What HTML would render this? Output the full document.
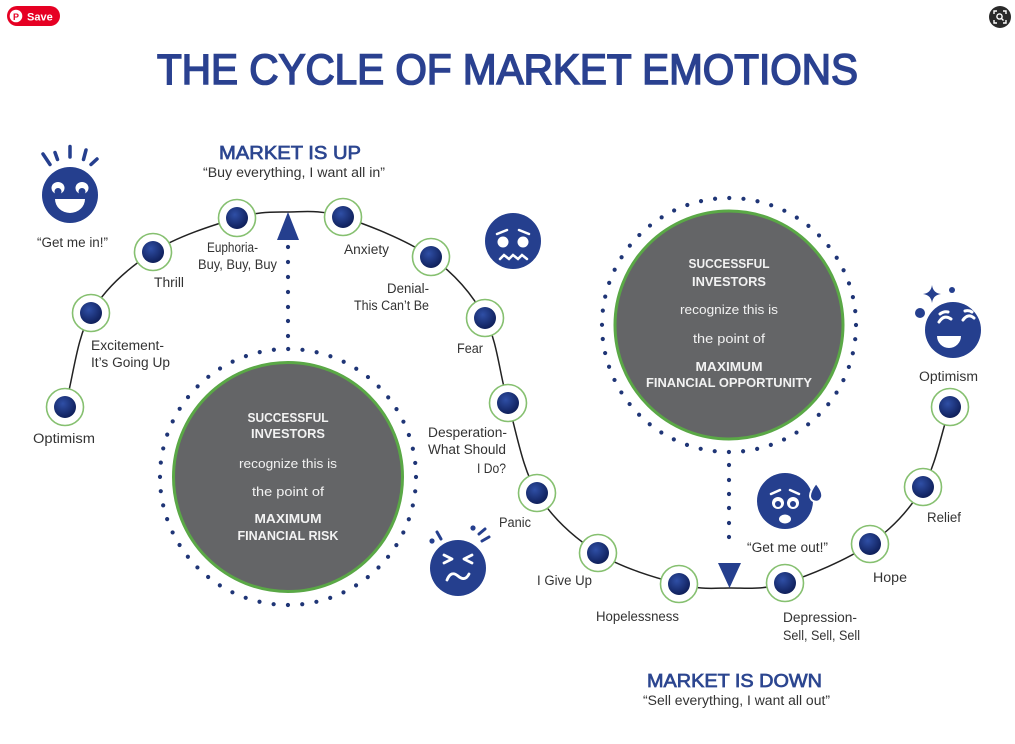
<!DOCTYPE html>
<html><head><meta charset="utf-8"><style>
html,body{margin:0;padding:0;background:#fff;}
svg{display:block;}
text{font-family:"Liberation Sans",sans-serif;}
.lb{font-size:13.5px;fill:#333;}
.hd{font-size:18px;fill:#2c4690;stroke:#2c4690;stroke-width:0.7;}
.q{font-size:13.5px;fill:#333;}
.cw{font-size:13px;fill:#f2f2f2;text-anchor:middle;}
.cb{font-size:13px;font-weight:bold;fill:#f2f2f2;text-anchor:middle;}
</style></head><body>
<svg width="1015" height="744" viewBox="0 0 1015 744" xmlns="http://www.w3.org/2000/svg">
<defs>
<radialGradient id="dot" cx="0.4" cy="0.35" r="0.7">
<stop offset="0" stop-color="#2f4fa6"/><stop offset="1" stop-color="#0d1c55"/>
</radialGradient>
</defs>
<rect width="1015" height="744" fill="#fff"/>

<!-- Save button -->
<rect x="7" y="6" width="53" height="20" rx="10" fill="#e60023"/>
<circle cx="16" cy="16" r="6.3" fill="#fff"/>
<text x="16" y="20" font-size="9" font-weight="bold" fill="#e60023" text-anchor="middle">P</text>
<text x="27" y="20.5" font-size="11" font-weight="bold" fill="#fff">Save</text>

<!-- top right icon -->
<circle cx="1000" cy="17" r="11" fill="#2a2a2a"/>
<path d="M994,14 v-3 h3 M1003,11 h3 v3 M1006,20 v3 h-3 M997,23 h-3 v-3" stroke="#fff" stroke-width="1.4" fill="none"/>
<circle cx="999.5" cy="16.5" r="2.6" stroke="#fff" stroke-width="1.4" fill="none"/>
<line x1="1001.5" y1="18.5" x2="1003.5" y2="20.5" stroke="#fff" stroke-width="1.4"/>

<!-- Title -->
<text x="157" y="84" font-size="43" fill="#2a4190" stroke="#2a4190" stroke-width="1.6" textLength="701" lengthAdjust="spacingAndGlyphs">THE CYCLE OF MARKET EMOTIONS</text>

<!-- Headers -->
<text x="219" y="159" class="hd" textLength="142" lengthAdjust="spacingAndGlyphs">MARKET IS UP</text>
<text x="203" y="177" class="q" textLength="182" lengthAdjust="spacingAndGlyphs">“Buy everything, I want all in”</text>
<text x="647" y="687" class="hd" textLength="175" lengthAdjust="spacingAndGlyphs">MARKET IS DOWN</text>
<text x="643" y="705" class="q" textLength="187" lengthAdjust="spacingAndGlyphs">“Sell everything, I want all out”</text>

<!-- Curve -->
<path d="M65,407 C73.7,375.7 76.3,338.8 91,313 C105.7,287.2 128.7,267.8 153,252 C177.3,236.2 214.5,224.7 237,218 C259.5,211.3 270.3,212.2 288,212 C305.7,211.8 319.2,209.5 343,217 C366.8,224.5 407.3,240.2 431,257 C454.7,273.8 472.2,293.7 485,318 C497.8,342.3 499.3,373.8 508,403 C516.7,432.2 522,468 537,493 C552,518 574.3,537.8 598,553 C621.7,568.2 657.2,578.2 679,584 C700.8,589.8 711.3,588.2 729,588 C746.7,587.8 761.5,590.3 785,583 C808.5,575.7 847,560 870,544 C893,528 909.7,509.8 923,487 C936.3,464.2 941,433.7 950,407" fill="none" stroke="#222" stroke-width="1.5"/>

<!-- Big circles -->
<circle cx="288" cy="477" r="128" fill="none" stroke="#1f3576" stroke-width="4.2" stroke-linecap="round" stroke-dasharray="0 14.36"/>
<circle cx="288" cy="477" r="114.5" fill="#646567" stroke="#5aa846" stroke-width="3"/>
<circle cx="729" cy="325" r="127" fill="none" stroke="#1f3576" stroke-width="4.2" stroke-linecap="round" stroke-dasharray="0 14.25"/>
<circle cx="729" cy="325" r="114" fill="#646567" stroke="#5aa846" stroke-width="3"/>

<text x="288" y="422" class="cb" textLength="81" lengthAdjust="spacingAndGlyphs">SUCCESSFUL</text>
<text x="288" y="438" class="cb" textLength="74" lengthAdjust="spacingAndGlyphs">INVESTORS</text>
<text x="288" y="468" class="cw" textLength="98" lengthAdjust="spacingAndGlyphs">recognize this is</text>
<text x="288" y="496" class="cw" textLength="72" lengthAdjust="spacingAndGlyphs">the point of</text>
<text x="288" y="523" class="cb" textLength="67" lengthAdjust="spacingAndGlyphs">MAXIMUM</text>
<text x="288" y="540" class="cb" textLength="101" lengthAdjust="spacingAndGlyphs">FINANCIAL RISK</text>

<text x="729" y="268" class="cb" textLength="81" lengthAdjust="spacingAndGlyphs">SUCCESSFUL</text>
<text x="729" y="286" class="cb" textLength="74" lengthAdjust="spacingAndGlyphs">INVESTORS</text>
<text x="729" y="314" class="cw" textLength="98" lengthAdjust="spacingAndGlyphs">recognize this is</text>
<text x="729" y="343" class="cw" textLength="72" lengthAdjust="spacingAndGlyphs">the point of</text>
<text x="729" y="371" class="cb" textLength="67" lengthAdjust="spacingAndGlyphs">MAXIMUM</text>
<text x="729" y="387" class="cb" textLength="166" lengthAdjust="spacingAndGlyphs">FINANCIAL OPPORTUNITY</text>

<!-- dotted connectors -->
<g fill="#1f3576">
<circle cx="288" cy="247" r="2.1"/><circle cx="288" cy="262" r="2.1"/><circle cx="288" cy="277" r="2.1"/><circle cx="288" cy="292" r="2.1"/><circle cx="288" cy="307" r="2.1"/><circle cx="288" cy="321" r="2.1"/><circle cx="288" cy="336" r="2.1"/>
<circle cx="729" cy="465" r="2.1"/><circle cx="729" cy="480" r="2.1"/><circle cx="729" cy="494" r="2.1"/><circle cx="729" cy="508" r="2.1"/><circle cx="729" cy="523" r="2.1"/><circle cx="729" cy="537" r="2.1"/>
</g>
<polygon points="288,212 277,240 299,240" fill="#253f8e"/>
<polygon points="718,563 741,563 729.5,588" fill="#253f8e"/>

<!-- Nodes -->
<g>
<g fill="#fff" stroke="#86c070" stroke-width="1.6">
<circle cx="65" cy="407" r="18.5"/><circle cx="91" cy="313" r="18.5"/><circle cx="153" cy="252" r="18.5"/><circle cx="237" cy="218" r="18.5"/><circle cx="343" cy="217" r="18.5"/><circle cx="431" cy="257" r="18.5"/><circle cx="485" cy="318" r="18.5"/><circle cx="508" cy="403" r="18.5"/><circle cx="537" cy="493" r="18.5"/><circle cx="598" cy="553" r="18.5"/><circle cx="679" cy="584" r="18.5"/><circle cx="785" cy="583" r="18.5"/><circle cx="870" cy="544" r="18.5"/><circle cx="923" cy="487" r="18.5"/><circle cx="950" cy="407" r="18.5"/>
</g>
<g fill="url(#dot)">
<circle cx="65" cy="407" r="11"/><circle cx="91" cy="313" r="11"/><circle cx="153" cy="252" r="11"/><circle cx="237" cy="218" r="11"/><circle cx="343" cy="217" r="11"/><circle cx="431" cy="257" r="11"/><circle cx="485" cy="318" r="11"/><circle cx="508" cy="403" r="11"/><circle cx="537" cy="493" r="11"/><circle cx="598" cy="553" r="11"/><circle cx="679" cy="584" r="11"/><circle cx="785" cy="583" r="11"/><circle cx="870" cy="544" r="11"/><circle cx="923" cy="487" r="11"/><circle cx="950" cy="407" r="11"/>
</g>
</g>

<!-- Labels -->
<text x="33" y="443" class="lb" textLength="62" lengthAdjust="spacingAndGlyphs">Optimism</text>
<text x="91" y="350" class="lb" textLength="73" lengthAdjust="spacingAndGlyphs">Excitement-</text>
<text x="91" y="367" class="lb" textLength="79" lengthAdjust="spacingAndGlyphs">It’s Going Up</text>
<text x="154" y="287" class="lb" textLength="30" lengthAdjust="spacingAndGlyphs">Thrill</text>
<text x="207" y="252" class="lb" textLength="51" lengthAdjust="spacingAndGlyphs">Euphoria-</text>
<text x="198" y="269" class="lb" textLength="79" lengthAdjust="spacingAndGlyphs">Buy, Buy, Buy</text>
<text x="344" y="254" class="lb" textLength="45" lengthAdjust="spacingAndGlyphs">Anxiety</text>
<text x="387" y="293" class="lb" textLength="42" lengthAdjust="spacingAndGlyphs">Denial-</text>
<text x="354" y="310" class="lb" textLength="75" lengthAdjust="spacingAndGlyphs">This Can’t Be</text>
<text x="457" y="353" class="lb" textLength="26" lengthAdjust="spacingAndGlyphs">Fear</text>
<text x="428" y="437" class="lb" textLength="79" lengthAdjust="spacingAndGlyphs">Desperation-</text>
<text x="428" y="454" class="lb" textLength="78" lengthAdjust="spacingAndGlyphs">What Should</text>
<text x="477" y="473" class="lb" textLength="29" lengthAdjust="spacingAndGlyphs">I Do?</text>
<text x="499" y="527" class="lb" textLength="32" lengthAdjust="spacingAndGlyphs">Panic</text>
<text x="537" y="585" class="lb" textLength="55" lengthAdjust="spacingAndGlyphs">I Give Up</text>
<text x="596" y="621" class="lb" textLength="83" lengthAdjust="spacingAndGlyphs">Hopelessness</text>
<text x="783" y="622" class="lb" textLength="74" lengthAdjust="spacingAndGlyphs">Depression-</text>
<text x="783" y="640" class="lb" textLength="77" lengthAdjust="spacingAndGlyphs">Sell, Sell, Sell</text>
<text x="873" y="582" class="lb" textLength="34" lengthAdjust="spacingAndGlyphs">Hope</text>
<text x="927" y="522" class="lb" textLength="34" lengthAdjust="spacingAndGlyphs">Relief</text>
<text x="919" y="381" class="lb" textLength="59" lengthAdjust="spacingAndGlyphs">Optimism</text>
<text x="37" y="247" class="q" textLength="71" lengthAdjust="spacingAndGlyphs">“Get me in!”</text>
<text x="747" y="552" class="q" textLength="81" lengthAdjust="spacingAndGlyphs">“Get me out!”</text>

<!-- Face 1 happy -->
<g>
<g stroke="#253f8e" stroke-width="3.5" stroke-linecap="round">
<line x1="43" y1="154" x2="50" y2="164.5"/><line x1="55" y1="152.5" x2="57.5" y2="159.5"/><line x1="70" y1="146.5" x2="70" y2="157"/><line x1="86" y1="150" x2="83.5" y2="159.5"/><line x1="97" y1="159" x2="91" y2="164.5"/>
</g>
<circle cx="70" cy="195" r="28" fill="#253f8e"/>
<ellipse cx="58" cy="188" rx="6.5" ry="6" fill="#fff"/>
<ellipse cx="82" cy="188" rx="6.5" ry="6" fill="#fff"/>
<circle cx="58" cy="191.5" r="3.5" fill="#253f8e"/>
<circle cx="82" cy="191.5" r="3.5" fill="#253f8e"/>
<path d="M55,199 L85,199 A15,14 0 0 1 55,199 Z" fill="#fff"/>
</g>

<!-- Face 2 worried -->
<g>
<circle cx="513" cy="241" r="28" fill="#253f8e"/>
<g stroke="#fff" stroke-width="2.5" stroke-linecap="round" fill="none">
<line x1="497" y1="234" x2="507" y2="230"/><line x1="519" y1="230" x2="529" y2="234"/>
<path d="M500,259 L504,255 L509,259 L513,255 L518,259 L522,255 L527,259"/>
</g>
<circle cx="503" cy="242" r="5.5" fill="#fff"/>
<circle cx="523" cy="242" r="5.5" fill="#fff"/>
</g>

<!-- Face 3 panic -->
<g>
<circle cx="458" cy="568" r="28" fill="#253f8e"/>
<g stroke="#253f8e" stroke-width="3" stroke-linecap="round">
<line x1="437" y1="532" x2="441" y2="539"/><line x1="479" y1="534" x2="485" y2="529"/><line x1="482" y1="541" x2="489" y2="537"/>
</g>
<circle cx="432" cy="541" r="2.6" fill="#253f8e"/>
<circle cx="473" cy="528" r="2.6" fill="#253f8e"/>
<g stroke="#fff" stroke-width="2.8" stroke-linecap="round" stroke-linejoin="round" fill="none">
<polyline points="444,555 452,559 444,563"/><polyline points="472,555 464,559 472,563"/>
<path d="M447,580 Q451,570 458,576 Q465,582 469,574"/>
</g>
</g>

<!-- Face 4 scared -->
<g>
<circle cx="785" cy="501" r="28" fill="#253f8e"/>
<g stroke="#fff" stroke-width="2.5" stroke-linecap="round">
<line x1="771" y1="494" x2="780" y2="490"/><line x1="790" y1="490" x2="799" y2="494"/>
</g>
<circle cx="778" cy="503" r="6" fill="#fff"/><circle cx="793" cy="503" r="6" fill="#fff"/>
<circle cx="778" cy="504" r="3" fill="#253f8e"/><circle cx="793" cy="504" r="3" fill="#253f8e"/>
<ellipse cx="785" cy="519" rx="6" ry="4.5" fill="#fff"/>
<path d="M816,483 Q825,494 821,499 A6,6 0 0 1 810,496 Q810,491 816,483 Z" fill="#253f8e" stroke="#fff" stroke-width="2"/>
</g>

<!-- Face 5 optimism -->
<g>
<path d="M932,285 Q933,293 941,294 Q933,295 932,303 Q931,295 923,294 Q931,293 932,285 Z" fill="#253f8e"/>
<circle cx="952" cy="290" r="3" fill="#253f8e"/>
<circle cx="920" cy="313" r="5" fill="#253f8e"/>
<circle cx="953" cy="330" r="28" fill="#253f8e"/>
<g stroke="#fff" stroke-width="3" stroke-linecap="round" fill="none">
<path d="M939,322 Q944,314 951,319"/><path d="M963,320 Q968,313 974,318"/>
<path d="M940,314 Q944,311 948,312"/><path d="M965,311 Q969,310 972,312"/>
</g>
<path d="M937,336 L961,336 A12,12 0 0 1 937,336 Z" fill="#fff"/>
</g>
</svg>
</body></html>
